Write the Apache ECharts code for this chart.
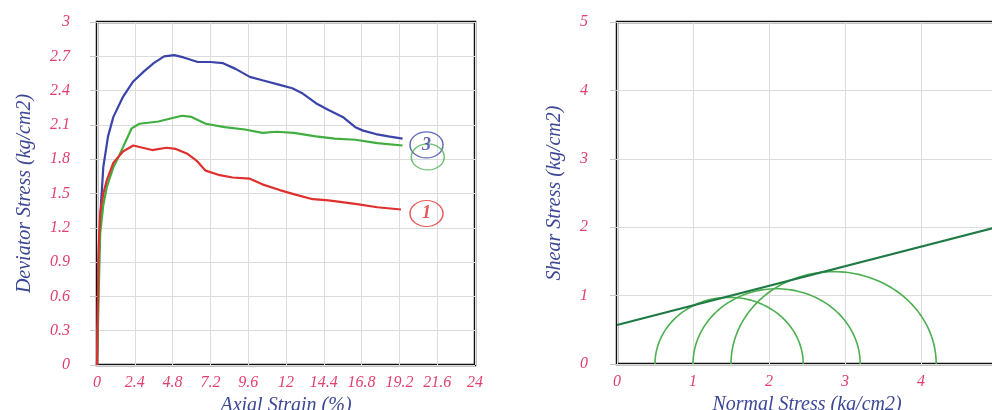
<!DOCTYPE html>
<html>
<head>
<meta charset="utf-8">
<script src="https://cdn.jsdelivr.net/npm/echarts@6/dist/echarts.min.js"></script>
<style>
  html, body { margin: 0; padding: 0; background: #fff; }
  #chart { width: 992px; height: 410px; }
</style>
</head>
<body>
<div id="chart"></div>
<script>
// Left panel: deviator stress vs axial strain, [strain %, stress kg/cm2]
const curve3 = [
    [0, 0], [0.1, 0.9], [0.25, 1.4], [0.4, 1.73], [0.7, 2.0], [1.04, 2.17], [1.67, 2.35],
    [2.3, 2.48], [3.0, 2.57], [3.6, 2.64], [4.26, 2.7], [4.9, 2.71], [5.5, 2.69], [6.4, 2.65],
    [7.2, 2.65], [8.0, 2.64], [8.8, 2.59], [9.7, 2.52], [10.5, 2.49], [11.6, 2.45], [12.4, 2.42],
    [13.0, 2.38], [13.9, 2.29], [14.7, 2.23], [15.6, 2.17], [16.4, 2.08], [16.9, 2.05],
    [17.7, 2.02], [18.5, 2.0], [19.4, 1.98]
];
const curve2 = [
    [0, 0], [0.2, 1.15], [0.4, 1.4], [0.63, 1.56], [1.04, 1.73], [1.4, 1.83], [1.67, 1.91],
    [2.2, 2.07], [2.7, 2.11], [3.9, 2.13], [4.8, 2.16], [5.4, 2.18], [6.0, 2.17], [6.9, 2.11],
    [8.1, 2.08], [9.4, 2.06], [10.5, 2.03], [11.4, 2.04], [12.5, 2.03], [13.9, 2.0], [15.1, 1.98],
    [16.4, 1.97], [17.8, 1.94], [19.4, 1.92]
];
const curve1 = [
    [0, 0], [0.1, 1.0], [0.2, 1.33], [0.4, 1.5], [0.63, 1.62], [1.04, 1.77], [1.67, 1.87],
    [2.3, 1.92], [2.9, 1.9], [3.5, 1.88], [4.4, 1.9], [5.0, 1.89], [5.7, 1.85], [6.3, 1.79],
    [6.9, 1.7], [7.8, 1.66], [8.6, 1.64], [9.7, 1.63], [10.5, 1.58], [11.6, 1.53], [12.6, 1.49],
    [13.7, 1.45], [14.7, 1.44], [16.4, 1.41], [17.8, 1.38], [19.3, 1.36]
];

// Curve tags drawn as ringed numbers at the line ends
const tagText = ['3', '', '1'];
const tagPos = [[20.92, 1.925], [21.0, 1.82], [20.92, 1.325]];
const tagColor = ['#3a44a8', '#4caf50', '#e0302e'];

// Right panel: Mohr circles (sigma3, sigma1) and failure envelope
const sigma3 = [0.5, 1.0, 1.5];
const sigma1 = [2.45, 3.2, 4.2];
const envelopeX = [0, 5];
const envelopeY = [0.57, 2.0];

const tickColor = '#e0406e';
const nameColor = '#3c4796';
const serif = 'Liberation Serif';

function axisLabel() {
    return { color: tickColor, fontFamily: serif, fontStyle: 'italic', fontSize: 16, margin: 10 };
}
function nameStyle() {
    return { color: nameColor, fontFamily: serif, fontStyle: 'italic', fontSize: 20 };
}
const splitLine = { show: true, lineStyle: { color: '#dcdcdc', width: 1 } };

const chart = echarts.init(document.getElementById('chart'));

chart.setOption({
    animation: false,
    grid: [
        {
            left: 97, top: 22, width: 378, height: 343, outerBoundsMode: 'none',
            show: true, borderColor: '#111', borderWidth: 2.5
        },
        {
            left: 617, top: 22, width: 380, height: 342, outerBoundsMode: 'none',
            show: true, borderColor: '#111', borderWidth: 2.5
        }
    ],
    xAxis: [
        {
            gridIndex: 0, type: 'value', min: 0, max: 24, interval: 2.4,
            name: 'Axial Strain (%)', nameLocation: 'middle', nameGap: 28, nameTextStyle: nameStyle(),
            axisLine: { show: false }, axisTick: { show: false },
            axisLabel: { ...axisLabel(), formatter: v => String(+v.toFixed(1)) },
            splitLine: splitLine
        },
        {
            gridIndex: 1, type: 'value', min: 0, max: 5, interval: 1,
            name: 'Normal Stress (kg/cm2)', nameLocation: 'middle', nameGap: 28, nameTextStyle: nameStyle(),
            axisLine: { show: false }, axisTick: { show: false },
            axisLabel: axisLabel(),
            splitLine: splitLine
        }
    ],
    yAxis: [
        {
            gridIndex: 0, type: 'value', min: 0, max: 3, interval: 0.3,
            name: 'Deviator Stress (kg/cm2)', nameLocation: 'middle', nameGap: 62, nameTextStyle: nameStyle(),
            axisLine: { show: false },
            axisTick: { show: true, length: 7, lineStyle: { color: '#c8c8c8' } },
            axisLabel: { ...axisLabel(), margin: 27, formatter: v => String(+v.toFixed(1)) },
            splitLine: splitLine
        },
        {
            gridIndex: 1, type: 'value', min: 0, max: 5, interval: 1,
            name: 'Shear Stress (kg/cm2)', nameLocation: 'middle', nameGap: 52, nameTextStyle: nameStyle(),
            axisLine: { show: false },
            axisTick: { show: true, length: 7, lineStyle: { color: '#c8c8c8' } },
            axisLabel: { ...axisLabel(), margin: 29 },
            splitLine: splitLine
        }
    ],
    series: [
        {
            name: 'Sample 3', type: 'line', xAxisIndex: 0, yAxisIndex: 0, data: curve3,
            showSymbol: false, lineStyle: { color: '#3a44a8', width: 2.2 }
        },
        {
            name: 'Sample 2', type: 'line', xAxisIndex: 0, yAxisIndex: 0, data: curve2,
            showSymbol: false, lineStyle: { color: '#3fae3f', width: 2.2 }
        },
        {
            name: 'Sample 1', type: 'line', xAxisIndex: 0, yAxisIndex: 0, data: curve1,
            showSymbol: false, lineStyle: { color: '#e0302e', width: 2.2 }
        },
        {
            name: 'Tags', type: 'scatter', xAxisIndex: 0, yAxisIndex: 0,
            symbol: 'circle', symbolSize: [33, 26], z: 5,
            data: tagPos.map((p, i) => ({
                value: p,
                itemStyle: { color: 'rgba(255,255,255,0)', borderColor: tagColor[i], borderWidth: 1.3 },
                label: {
                    show: tagText[i] !== '', position: 'inside', formatter: tagText[i],
                    color: tagColor[i], fontFamily: serif, fontStyle: 'italic', fontWeight: 'bold', fontSize: 18
                }
            }))
        },
        {
            name: 'Mohr circles', type: 'custom', xAxisIndex: 1, yAxisIndex: 1,
            data: sigma3.map((s, i) => [s, sigma1[i]]),
            renderItem: function (params, api) {
                const s3 = api.value(0), s1 = api.value(1);
                const r = (s1 - s3) / 2;
                const center = api.coord([(s1 + s3) / 2, 0]);
                const rx = api.size([r, 0])[0];
                const ry = api.size([0, r])[1];
                const pts = [];
                for (let k = 0; k <= 90; k++) {
                    const a = Math.PI * k / 90;
                    pts.push([center[0] - rx * Math.cos(a), center[1] - ry * Math.sin(a)]);
                }
                return {
                    type: 'polyline',
                    shape: { points: pts },
                    style: { stroke: '#4caf50', lineWidth: 1.6, fill: null }
                };
            }
        },
        {
            name: 'Envelope', type: 'line', xAxisIndex: 1, yAxisIndex: 1,
            data: envelopeX.map((x, i) => [x, envelopeY[i]]),
            showSymbol: false, z: 4, lineStyle: { color: '#1f7a45', width: 2.2 }
        }
    ]
});
</script>
</body>
</html>
